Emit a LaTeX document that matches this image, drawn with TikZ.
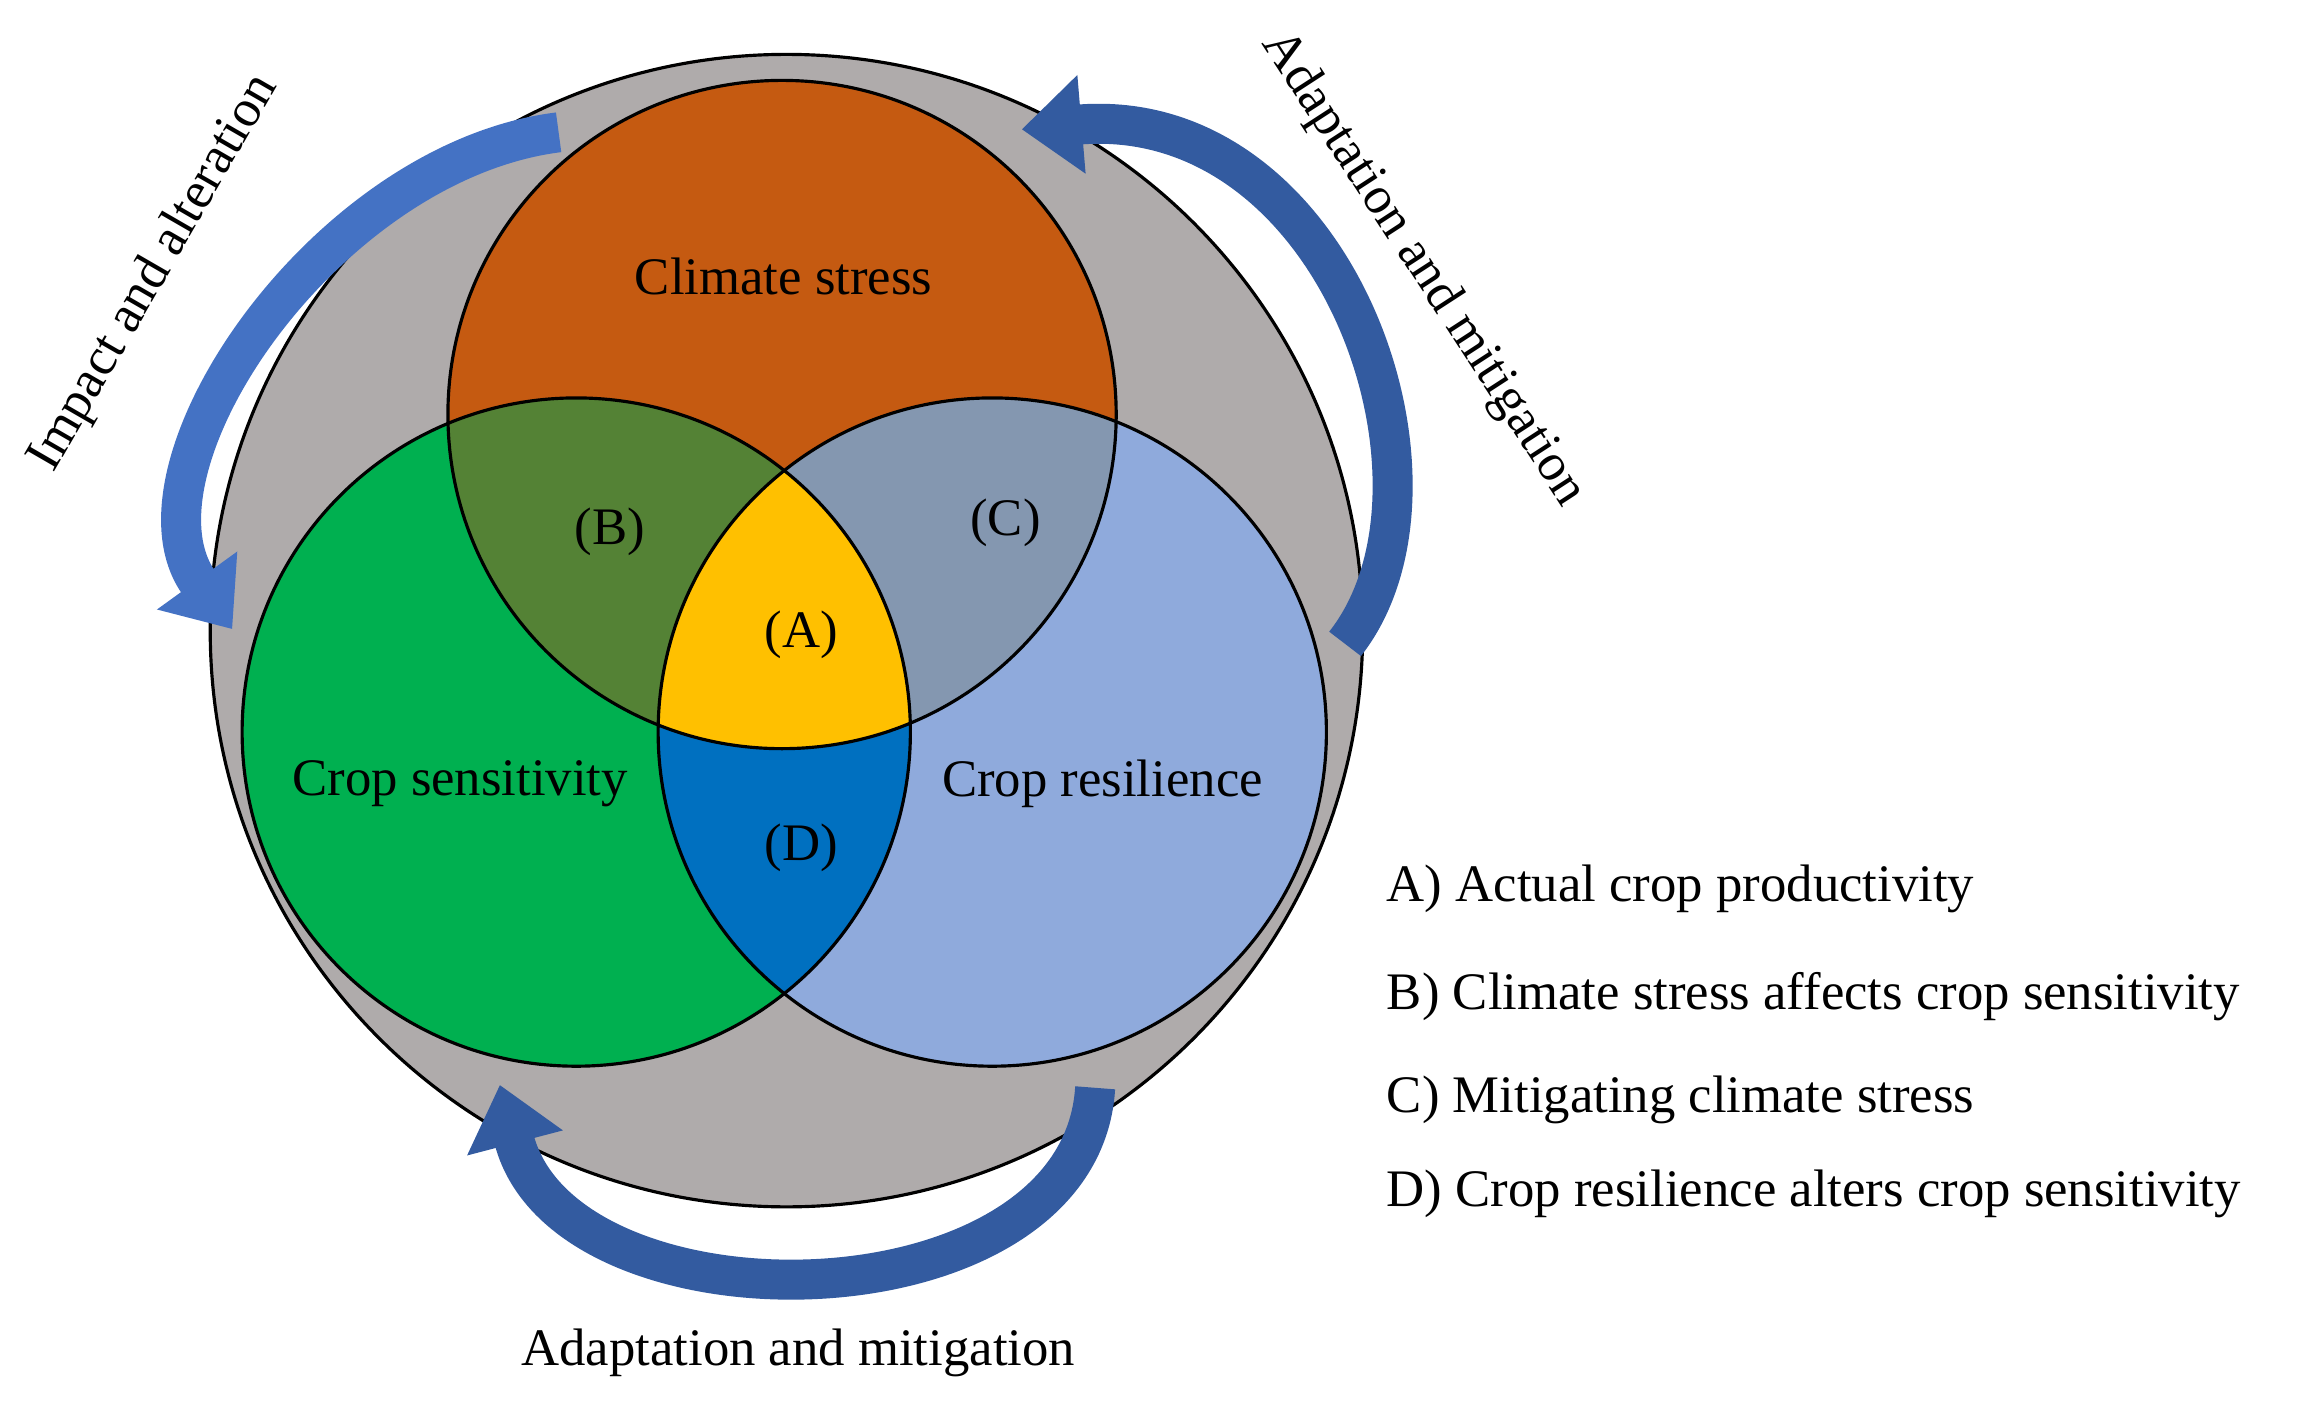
\documentclass[tikz,border=0pt]{standalone}
\usepackage{fontspec}
\setmainfont{Liberation Serif}
\usetikzlibrary{arrows.meta}
\definecolor{cgray}{HTML}{AFABAB}
\definecolor{corange}{HTML}{C55A11}
\definecolor{cgreen}{HTML}{00B050}
\definecolor{cblue}{HTML}{8FAADC}
\definecolor{cB}{HTML}{548235}
\definecolor{cC}{HTML}{8497B0}
\definecolor{cA}{HTML}{FFC000}
\definecolor{cD}{HTML}{0070C0}
\definecolor{carrow}{HTML}{4472C4}
\definecolor{carrowd}{HTML}{2F5597}
\begin{document}
\begin{tikzpicture}[x=0.0147cm,y=-0.0147cm,
  txt/.style={font=\fontsize{15}{18}\selectfont},
  bigarrow/.style={line width=0.4cm,draw=carrow,-{Triangle[width=0.95cm,length=0.6cm]}},
  outl/.style={draw=black,line width=0.9pt}]
\useasboundingbox (0,0) rectangle (1568,958);
\def\R{3.34cm}
\coordinate (G) at (535,429);
\coordinate (CS) at (532,282);
\coordinate (SE) at (392,498);
\coordinate (RE) at (675,498);
\fill[cgray] (G) circle[radius=5.76cm];
\draw[outl] (G) circle[radius=5.76cm];
\fill[corange] (CS) circle[radius=\R];
\fill[cgreen] (SE) circle[radius=\R];
\fill[cblue] (RE) circle[radius=\R];
\begin{scope}\clip (CS) circle[radius=\R]; \fill[cB] (SE) circle[radius=\R];\end{scope}
\begin{scope}\clip (CS) circle[radius=\R]; \fill[cC] (RE) circle[radius=\R];\end{scope}
\begin{scope}\clip (SE) circle[radius=\R]; \fill[cD] (RE) circle[radius=\R];\end{scope}
\begin{scope}\clip (SE) circle[radius=\R]; \clip (RE) circle[radius=\R]; \fill[cA] (CS) circle[radius=\R];\end{scope}
\draw[outl] (CS) circle[radius=\R];
\draw[outl] (SE) circle[radius=\R];
\draw[outl] (RE) circle[radius=\R];
\node[txt] (tcs) at (533,188) {Climate stress};
\node[txt] (tse) at (313,533) {Crop sensitivity};
\node[txt] (tre) at (750,533) {Crop resilience};
\node[txt] (la) at (545,432) {(A)};
\node[txt] (lb) at (415,362) {(B)};
\node[txt] (lc) at (684,356) {(C)};
\node[txt] (ld) at (545,577) {(D)};
% arrows
\coordinate (a1s) at (380,90);
\coordinate (a1e) at (158,428);
\draw[bigarrow] (a1s) .. controls (220,110) and (80,320) .. (a1e);
\coordinate (a2s) at (915,438);
\coordinate (a2e) at (695,88);
\draw[bigarrow,draw=carrowd!80!carrow] (a2s) .. controls (1000,330) and (910,70) .. (a2e);
\coordinate (a3s) at (745,740);
\coordinate (a3e) at (340,738);
\draw[bigarrow,draw=carrowd!80!carrow] (a3s) .. controls (735,905) and (385,910) .. (a3e);
\node[txt,rotate=60] (t1) at (105,186) {Impact and alteration};
\node[txt,rotate=-57] (t2) at (968,183) {Adaptation and mitigation};
\node[txt] (t3) at (543,920) {Adaptation and mitigation};
\node[txt,anchor=west] (g1) at (935,605) {A) Actual crop productivity};
\node[txt,anchor=west] (g2) at (935,678) {B) Climate stress affects crop sensitivity};
\node[txt,anchor=west] (g3) at (935,748) {C) Mitigating climate stress};
\node[txt,anchor=west] (g4) at (935,812) {D) Crop resilience alters crop sensitivity};
\end{tikzpicture}
\end{document}
